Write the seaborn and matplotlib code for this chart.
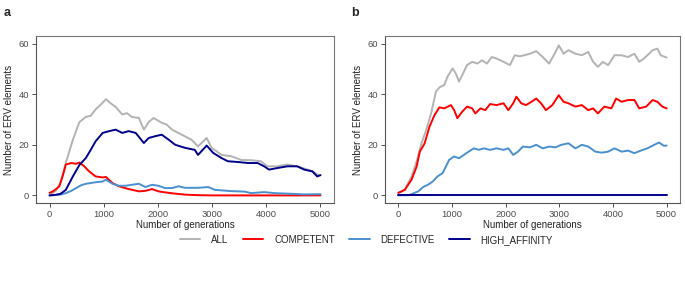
import matplotlib
matplotlib.use('Agg')
import matplotlib.pyplot as plt
import seaborn as sns
import pandas as pd

# ---- data (generation, value) ----
# panel a
a_all_gen = [0, 120, 200, 300, 430, 550, 670, 760, 850, 950, 1040, 1120, 1220, 1340, 1430, 1520, 1650, 1740, 1830, 1920,
             2070, 2160, 2260, 2350, 2440, 2530, 2620, 2740, 2820, 2900, 2990, 3080, 3170, 3350, 3540, 3720, 3900,
             4020, 4200, 4390, 4570, 4760, 4860, 4940, 5000]
a_all_val = [0, 2, 5, 12.8, 22, 29, 31, 31.5, 34, 36, 38, 36.5, 35, 32, 32.5, 31, 30.6, 26, 29, 30.6,
             28.7, 28, 26, 25, 24, 23, 22, 19.4, 21, 22.7, 18.8, 17.5, 16, 15.5, 14, 13.9, 13.5,
             11.5, 11.5, 12.2, 11.5, 10.2, 9.5, 8.2, 8]

a_comp_gen = [0, 60, 120, 180, 240, 300, 400, 490, 550, 640, 730, 850, 980, 1040, 1160, 1280, 1460, 1650, 1770,
              1890, 2010, 2130, 2320, 2500, 2740, 3000, 4000, 5000]
a_comp_val = [1, 1.6, 2.5, 3.6, 7.5, 12.2, 12.8, 12.5, 13, 11.5, 9.5, 7.5, 7.1, 7.3, 4.9, 3.6, 2.5, 1.6, 1.8,
              2.5, 1.6, 1.2, 0.7, 0.3, 0.1, 0, 0, 0]

a_def_gen = [0, 200, 300, 400, 490, 580, 670, 850, 980, 1040, 1160, 1280, 1400, 1520, 1650, 1770, 1890, 2010, 2130,
             2260, 2380, 2500, 2740, 2930, 3050, 3350, 3600, 3720, 3960, 4150, 4390, 4700, 5000]
a_def_val = [0, 0.3, 0.9, 1.8, 2.9, 4.0, 4.6, 5.2, 5.5, 6.2, 4.6, 3.8, 3.8, 4.2, 4.6, 3.3, 4.2, 3.8, 2.9,
             2.9, 3.6, 3.0, 3.0, 3.3, 2.2, 1.7, 1.5, 0.9, 1.3, 0.9, 0.7, 0.4, 0.5]

a_high_gen = [0, 100, 200, 300, 430, 550, 670, 760, 850, 980, 1100, 1220, 1340, 1460, 1590, 1740, 1830, 1950, 2070,
              2200, 2320, 2500, 2680, 2740, 2900, 3020, 3170, 3290, 3480, 3660, 3840, 3960, 4050, 4200, 4390,
              4570, 4700, 4850, 4940, 5000]
a_high_val = [0, 0.2, 0.6, 2.2, 7.5, 12, 14.8, 18, 21.4, 24.7, 25.4, 26, 24.7, 25.4, 24.7, 20.7, 22.7, 23.4, 24,
              22, 20, 18.8, 18, 16, 19.7, 16.8, 14.8, 13.5, 13.2, 12.8, 12.8, 11.5, 10.2, 10.8, 11.5,
              11.5, 10.2, 9.5, 7.5, 8]

# panel b
b_all_gen = [0, 120, 245, 340, 430, 520, 610, 700, 765, 855, 915, 1010, 1070, 1130, 1190, 1280, 1375, 1470, 1560,
             1650, 1740, 1830, 1960, 2080, 2170, 2260, 2350, 2450, 2570, 2690, 2810, 2930, 2990, 3080, 3170,
             3300, 3420, 3540, 3630, 3720, 3810, 3910, 4030, 4160, 4280, 4400, 4490, 4580, 4740, 4830, 4890, 5000]
b_all_val = [1, 2.2, 7.5, 13.4, 20.6, 25.9, 32.4, 41, 42.7, 43.6, 46.9, 50.2, 48.2, 45, 47.5, 51.5, 52.8, 52.1, 53.4,
             52.1, 54.7, 54.1, 52.8, 51.5, 55.4, 55, 55.4, 56, 57, 54.7, 52.1, 56.7, 59.3, 56, 57.4,
             56, 55.4, 56.7, 52.8, 50.8, 52.8, 51.5, 55.4, 55.4, 54.7, 56, 52.8, 54.1, 57.4, 58, 55.4, 54.5]

b_comp_gen = [0, 120, 245, 340, 400, 490, 580, 675, 765, 855, 980, 1040, 1100, 1190, 1280, 1375, 1435, 1530, 1620,
              1710, 1830, 1960, 2050, 2140, 2200, 2290, 2380, 2480, 2570, 2660, 2750, 2870, 2990, 3080, 3170,
              3300, 3420, 3540, 3630, 3720, 3840, 3970, 4060, 4160, 4280, 4400, 4490, 4620, 4740, 4830, 4920, 5000]
b_comp_val = [1, 2.2, 6.2, 11.4, 17.3, 20.6, 27.2, 31.8, 34.8, 34.4, 35.7, 33.7, 30.5, 33.1, 35.1, 34.4, 32.4, 34.4, 33.7,
              36.1, 35.7, 36.4, 33.7, 36.4, 39, 36.4, 35.7, 37, 38.3, 36.4, 33.7, 35.7, 39.6, 37, 36.4,
              35.1, 35.7, 33.7, 34.4, 32.4, 35.1, 34.4, 38.3, 37, 37.7, 37.7, 34.4, 35.1, 37.7, 37, 35.1, 34.4]

b_def_gen = [0, 200, 245, 370, 460, 550, 640, 730, 825, 885, 945, 1040, 1130, 1220, 1310, 1405, 1500, 1590, 1710,
             1830, 1960, 2050, 2140, 2230, 2320, 2450, 2570, 2690, 2810, 2930, 3040, 3170, 3300, 3420, 3540,
             3670, 3790, 3910, 4030, 4160, 4280, 4400, 4520, 4640, 4770, 4860, 4950, 5000]
b_def_val = [0, 0.1, 0.5, 1.6, 3.3, 4.2, 5.5, 7.5, 8.8, 11.4, 14, 15.4, 14.7, 16, 17.3, 18.6, 18, 18.6, 18,
             18.6, 18, 18.6, 16, 17.3, 19.3, 19, 20, 18.6, 19.3, 19, 20, 20.6, 18.6, 20, 19.3,
             17.3, 16.9, 17.3, 18.6, 17.3, 17.7, 16.7, 17.7, 18.6, 20, 20.9, 19.6, 19.7]

b_high_gen = [0, 5000]
b_high_val = [0, 0]

categories = ['ALL', 'COMPETENT', 'DEFECTIVE', 'HIGH_AFFINITY']
colors = ['#b3b3b3', '#ff0000', '#4a90d0', '#00008b']


def long_frame(series):
    frames = []
    for name, (g, v) in zip(categories, series):
        frames.append(pd.DataFrame({'gen': g, 'val': v, 'type': name}))
    return pd.concat(frames, ignore_index=True)


df_a = long_frame([(a_all_gen, a_all_val), (a_comp_gen, a_comp_val),
                   (a_def_gen, a_def_val), (a_high_gen, a_high_val)])
df_b = long_frame([(b_all_gen, b_all_val), (b_comp_gen, b_comp_val),
                   (b_def_gen, b_def_val), (b_high_gen, b_high_val)])

sns.set_theme(style='white')
plt.rcParams['font.family'] = ['Liberation Sans', 'DejaVu Sans']

fig = plt.figure(figsize=(6.85, 2.89), dpi=100)
ax_a = fig.add_axes([0.0526, 0.2976, 0.4350, 0.5778])
ax_b = fig.add_axes([0.5620, 0.2976, 0.4307, 0.5778])

palette = dict(zip(categories, colors))
for ax, df in [(ax_a, df_a), (ax_b, df_b)]:
    sns.lineplot(data=df, x='gen', y='val', hue='type', hue_order=categories,
                 palette=palette, linewidth=1.4, ax=ax, legend=False, sort=False)
    ax.set_xlim(-250, 5250)
    ax.set_ylim(-3, 63)
    ax.set_xticks([0, 1000, 2000, 3000, 4000, 5000])
    ax.set_yticks([0, 20, 40, 60])
    ax.set_xlabel('Number of generations', fontsize=7, color='#222222', labelpad=1)
    ax.set_ylabel('Number of ERV elements', fontsize=7, color='#222222', labelpad=3)
    ax.tick_params(axis='both', labelsize=6.8, labelcolor='#4d4d4d', length=3, width=0.6,
                   color='#333333', pad=2, direction='out', bottom=True, left=True)
    for side, sp in ax.spines.items():
        sp.set_visible(True)
        sp.set_linewidth(0.8)
        sp.set_color('#555555' if side in ('left', 'bottom') else '#777777')

fig.text(0.006, 0.955, 'a', fontsize=9, fontweight='bold', va='center')
fig.text(0.513, 0.955, 'b', fontsize=9, fontweight='bold', va='center')

handles = [plt.Line2D([0], [0], color=c, lw=1.4) for c in colors]
fig.legend(handles, categories, loc='center', bbox_to_anchor=(0.535, 0.17), ncol=4,
           frameon=False, fontsize=7, handlelength=2.1, columnspacing=1.5, handletextpad=1.1)

fig.savefig('out.png', dpi=100, facecolor='white')
